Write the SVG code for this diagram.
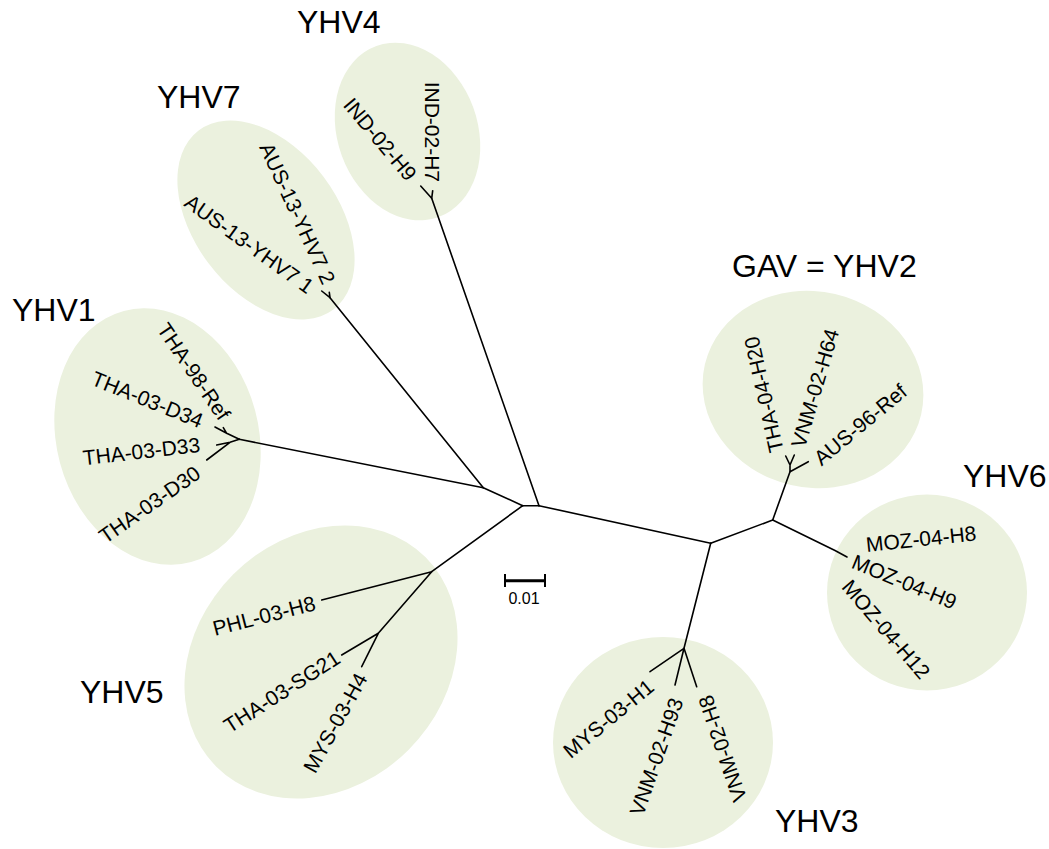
<svg xmlns="http://www.w3.org/2000/svg" width="1049" height="849" viewBox="0 0 1049 849">
<style>
.bg{fill:#ffffff}
.clade{fill:#EBF1DE;stroke:none}
.br{stroke:#000;stroke-width:1.6;fill:none;stroke-linecap:round;stroke-linejoin:round}
.leaf{font-family:"Liberation Sans",Arial,sans-serif;font-size:21px;fill:#000}
.grp{font-family:"Liberation Sans",Arial,sans-serif;font-size:32px;fill:#000}
.sc{font-family:"Liberation Sans",Arial,sans-serif;font-size:16px;fill:#000}
</style>
<rect class="bg" x="0" y="0" width="1049" height="849"/>

<g id="clade-YHV4">
<ellipse class="clade" cx="407.5" cy="131.5" rx="70" ry="91" transform="rotate(-20 407.5 131.5)"/>
<text class="grp" x="297" y="33">YHV4</text>
<text class="leaf" text-anchor="end" y="7" transform="translate(432,182) rotate(90)">IND-02-H7</text>
<text class="leaf" text-anchor="end" y="7" transform="translate(412,178) rotate(50)">IND-02-H9</text>
</g>

<g id="clade-YHV7">
<ellipse class="clade" cx="266" cy="220" rx="72" ry="112" transform="rotate(-37 266 220)"/>
<text class="grp" x="157" y="108">YHV7</text>
<text class="leaf" text-anchor="end" y="7" transform="translate(329,283) rotate(65.4)">AUS-13-YHV7 2</text>
<text class="leaf" text-anchor="end" y="7" transform="translate(311,289) rotate(35.8)">AUS-13-YHV7 1</text>
</g>

<g id="clade-YHV1">
<ellipse class="clade" cx="157.5" cy="436.5" rx="101" ry="130" transform="rotate(-15 157.5 436.5)"/>
<text class="grp" x="12" y="321">YHV1</text>
<text class="leaf" text-anchor="end" y="7" transform="translate(225,418) rotate(55.8)">THA-98-Ref</text>
<text class="leaf" text-anchor="end" y="7" transform="translate(202,422) rotate(22)">THA-03-D34</text>
<text class="leaf" text-anchor="end" y="7" transform="translate(200,445) rotate(-6.5)">THA-03-D33</text>
<text class="leaf" text-anchor="end" y="7" transform="translate(198,471) rotate(-35)">THA-03-D30</text>
</g>

<g id="clade-YHV5">
<ellipse class="clade" cx="321" cy="662" rx="124" ry="148" transform="rotate(45 321 662)"/>
<text class="grp" x="80" y="703">YHV5</text>
<text class="leaf" text-anchor="end" y="7" transform="translate(315,603) rotate(-14.5)">PHL-03-H8</text>
<text class="leaf" text-anchor="end" y="7" transform="translate(338,656) rotate(-32.7)">THA-03-SG21</text>
<text class="leaf" text-anchor="end" y="7" transform="translate(362,675) rotate(-61.2)">MYS-03-H4</text>
</g>

<g id="clade-YHV2">
<ellipse class="clade" cx="813" cy="389.5" rx="111" ry="98" transform="rotate(13 813 389.5)"/>
<text class="grp" x="732" y="277">GAV = YHV2</text>
<text class="leaf" text-anchor="start" y="7" transform="translate(777,452) rotate(-102.6)">THA-04-H20</text>
<text class="leaf" text-anchor="start" y="7" transform="translate(798,447) rotate(-73.6)">VNM-02-H64</text>
<text class="leaf" text-anchor="start" y="7" transform="translate(817,461) rotate(-39.7)">AUS-96-Ref</text>
</g>

<g id="clade-YHV6">
<ellipse class="clade" cx="927" cy="592.5" rx="100" ry="98"/>
<text class="grp" x="963" y="487">YHV6</text>
<text class="leaf" text-anchor="start" y="7" transform="translate(866,545) rotate(-6)">MOZ-04-H8</text>
<text class="leaf" text-anchor="start" y="7" transform="translate(853,561) rotate(22.4)">MOZ-04-H9</text>
<text class="leaf" text-anchor="start" y="7" transform="translate(846,583) rotate(49.4)">MOZ-04-H12</text>
</g>

<g id="clade-YHV3">
<ellipse class="clade" cx="663" cy="742.5" rx="110" ry="105.5"/>
<text class="grp" x="775" y="832">YHV3</text>
<text class="leaf" text-anchor="end" y="7" transform="translate(651,684) rotate(-39.5)">MYS-03-H1</text>
<text class="leaf" text-anchor="end" y="7" transform="translate(677,699) rotate(-70.6)">VNM-02-H93</text>
<text class="leaf" text-anchor="end" y="7" transform="translate(705,696) rotate(-108.7)">VNM-02-H8</text>
</g>

<g id="connectors">
<!-- backbone -->
<path class="br" d="M522.7,505.7 L539,505.7"/>
<path class="br" d="M539,505.7 L431.7,198.3"/>
<path class="br" d="M522.7,505.7 L483.3,487.7"/>
<path class="br" d="M483.3,487.7 L239.3,439.3"/>
<path class="br" d="M483.3,487.7 L330,297.7"/>
<path class="br" d="M522.7,505.7 L431.7,571.7"/>
<path class="br" d="M539,505.7 L710.7,543.3"/>
<path class="br" d="M710.7,543.3 L772.7,520"/>
<path class="br" d="M710.7,543.3 L684,648.3"/>
<path class="br" d="M772.7,520 L790,471.7"/>
<path class="br" d="M772.7,520 L835,550.5 L847,557"/>
<!-- YHV4 tips -->
<path class="br" d="M431.7,198.3 L420.7,186 M431.7,198.3 L432.7,190.7"/>
<!-- YHV7 tips -->
<path class="br" d="M330,297.7 L321.7,291 M330,297.7 L329.3,292.3"/>
<!-- YHV1 tips -->
<path class="br" d="M239.3,439.3 L226.7,433.3 L215,427 M226.7,433.3 L223.3,427.7"/>
<path class="br" d="M239.3,439.3 L230,442.3 L216.7,445 M230,442.3 L206.7,460"/>
<!-- YHV5 tips -->
<path class="br" d="M431.7,571.7 L321.7,600 M431.7,571.7 L378.3,633.3 L341.7,655 M378.3,633.3 L361.7,666.7"/>
<!-- YHV3 tips -->
<path class="br" d="M684,648.3 L650,671.7 M684,648.3 L675,685 M684,648.3 L696.7,686.7"/>
<!-- GAV tips -->
<path class="br" d="M790,471.7 L808.3,461.7 M790,471.7 L790,465 L785.7,456 M790,465 L794.3,455"/>
</g>

<g id="scale-bar">
<path d="M505,580.7 L545,580.7" stroke="#000" stroke-width="3"/>
<path d="M505,574 L505,587 M545,574 L545,587" stroke="#000" stroke-width="2"/>
<text class="sc" x="524" y="604" text-anchor="middle">0.01</text>
</g>
</svg>
